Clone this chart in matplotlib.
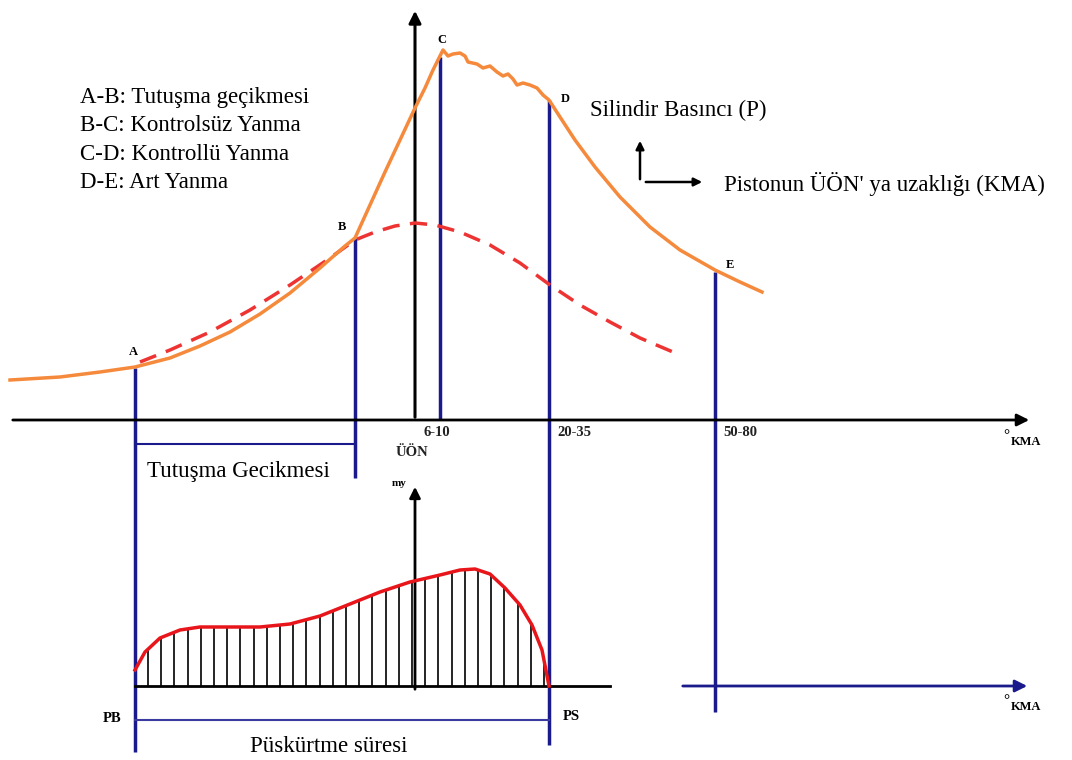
import matplotlib
matplotlib.use("Agg")
import matplotlib.pyplot as plt
import numpy as np

# --- data (pixel-like diagram coordinates) ---
pressure_x = [10, 60, 100, 135, 170, 200, 230, 260, 290, 320, 345, 355, 370, 385, 400, 415, 425, 433, 440, 443,
              448, 453, 460, 465, 468, 477, 483, 490, 497, 503, 508, 513, 517, 523, 530, 537, 543, 549,
              560, 575, 595, 620, 650, 680, 715, 740, 762]
pressure_y = [380, 377, 372, 367, 358, 346, 332, 314, 293, 268, 246, 238, 205, 172, 140, 108, 88, 70, 56, 50,
              56, 54, 53, 56, 62, 64, 68, 66, 72, 76, 74, 79, 85, 83, 85, 88, 95, 100,
              117, 140, 167, 197, 227, 250, 270, 282, 292]
dash_x = [140, 170, 210, 250, 290, 330, 355, 375, 395, 415, 435, 460, 490, 520, 550, 580, 610, 640, 680]
dash_y = [362, 350, 332, 310, 285, 258, 240, 232, 226, 223, 225, 232, 245, 263, 285, 305, 322, 338, 355]
inj_x = [135, 145, 160, 180, 200, 230, 260, 290, 320, 350, 380, 410, 440, 460, 475, 490, 505, 520, 532, 542, 549]
inj_y = [670, 652, 638, 630, 627, 627, 627, 624, 616, 604, 592, 582, 575, 570, 569, 574, 588, 605, 625, 650, 686]
event_labels = ["A", "B", "C", "D", "E"]
event_x = [135, 355, 440, 549, 715]
event_top = [368, 238, 57, 100, 272]
event_bottom = [752, 478, 420, 745, 712]
tick_labels = ["6-10", "20-35", "50-80"]
tick_x = [424, 557, 723]
legend_lines = ["A-B: Tutuşma geçikmesi", "B-C: Kontrolsüz Yanma", "C-D: Kontrollü Yanma", "D-E: Art Yanma"]

W, H = 1072, 760
fig = plt.figure(figsize=(W / 100, H / 100), dpi=100)
ax = fig.add_axes([0, 0, 1, 1])
ax.set_xlim(0, W)
ax.set_ylim(H, 0)
ax.axis("off")

serif = ["Liberation Serif", "DejaVu Serif"]
navy = "#1a1a8c"
orange = "#f58a3c"
big = 16.5
small = 10.5

# main axes
ax.annotate("", xy=(1032, 420), xytext=(10, 420),
            arrowprops=dict(arrowstyle="-|>", color="black", lw=2, mutation_scale=18))
ax.annotate("", xy=(415, 8), xytext=(415, 420),
            arrowprops=dict(arrowstyle="-|>", color="black", lw=2.2, mutation_scale=18))

# event vertical lines
for x, t, b in zip(event_x, event_top, event_bottom):
    ax.plot([x, x], [t, b], color=navy, lw=2.5, solid_capstyle="butt", zorder=2)

# curves
ax.plot(dash_x, dash_y, color="#ee3333", lw=2.5, ls=(0, (5, 3)), zorder=3)
ax.plot(pressure_x, pressure_y, color=orange, lw=2.5, zorder=4)

# event letters
lab_pos = {"A": (133, 352), "B": (342, 227), "C": (442, 40), "D": (565, 99), "E": (730, 265)}
for l in event_labels:
    x, y = lab_pos[l]
    ax.text(x, y, l, fontsize=9, fontweight="bold", family=serif, ha="center", va="center")

# tick labels
for lab, x in zip(tick_labels, tick_x):
    ax.text(x, 433, lab, fontsize=small, fontweight="bold", family=serif, ha="left", va="center", color="#222222")
ax.text(396, 452, "ÜÖN", fontsize=small, fontweight="bold", family=serif, ha="left", va="center", color="#222222")
ax.text(1003, 436, "°", fontsize=11, fontweight="bold", family=serif, ha="left", va="center")
ax.text(1011, 442, "KMA", fontsize=9, fontweight="bold", family=serif, ha="left", va="center")

# legend text
for i, s in enumerate(legend_lines):
    ax.text(80, 97 + i * 28.5, s, fontsize=big, family=serif, ha="left", va="center")

# small orientation arrows
ax.text(590, 110, "Silindir Basıncı (P)", fontsize=big, family=serif, ha="left", va="center")
ax.annotate("", xy=(640, 138), xytext=(640, 182),
            arrowprops=dict(arrowstyle="-|>", color="black", lw=1.8, mutation_scale=12))
ax.annotate("", xy=(705, 182), xytext=(643, 182),
            arrowprops=dict(arrowstyle="-|>", color="black", lw=1.8, mutation_scale=12))
ax.text(724, 184, "Pistonun ÜÖN' ya uzaklığı (KMA)", fontsize=big, family=serif, ha="left", va="center")

# ignition delay bracket
ax.plot([135, 355], [444, 444], color=navy, lw=1.5)
ax.text(147, 471, "Tutuşma Gecikmesi", fontsize=big, family=serif, ha="left", va="center")

# lower injection diagram
ax.plot([135, 610], [686, 686], color="black", lw=2)
ax.annotate("", xy=(415, 484), xytext=(415, 692),
            arrowprops=dict(arrowstyle="-|>", color="black", lw=2, mutation_scale=16))
ax.text(399, 483, "my", fontsize=8, fontweight="bold", family=serif, ha="center", va="center")
hx = np.arange(148, 549, 13.2)
hy = np.interp(hx, inj_x, inj_y)
for x, y in zip(hx, hy):
    ax.plot([x, x], [y, 686], color="black", lw=1.2, zorder=2)
ax.plot(inj_x, inj_y, color="#e8161b", lw=2.5, zorder=3)

ax.plot([135, 549], [720, 720], color="#3a3aa0", lw=1.5)
ax.text(112, 719, "PB", fontsize=small, fontweight="bold", family=serif, ha="center", va="center")
ax.text(571, 717, "PS", fontsize=small, fontweight="bold", family=serif, ha="center", va="center")
ax.text(329, 746, "Püskürtme süresi", fontsize=big, family=serif, ha="center", va="center")

ax.annotate("", xy=(1030, 686), xytext=(680, 686),
            arrowprops=dict(arrowstyle="-|>", color=navy, lw=2, mutation_scale=18))
ax.text(1003, 701, "°", fontsize=11, fontweight="bold", family=serif, ha="left", va="center")
ax.text(1011, 707, "KMA", fontsize=9, fontweight="bold", family=serif, ha="left", va="center")

fig.savefig("out.png", dpi=100)
